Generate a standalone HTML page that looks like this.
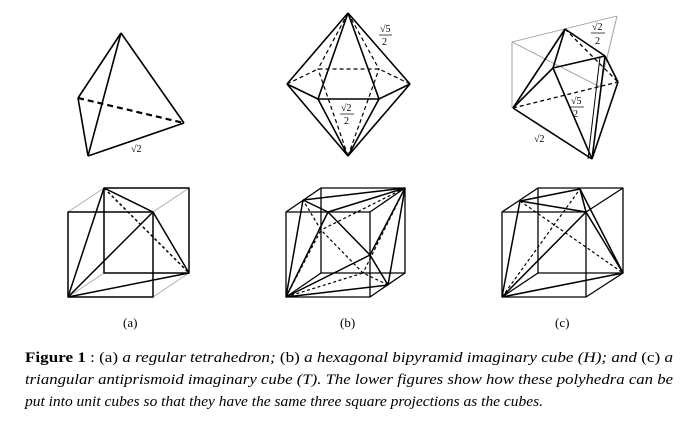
<!DOCTYPE html>
<html><head><meta charset="utf-8"><style>
html,body{margin:0;padding:0;background:#fff;}
svg{display:block;}
text{font-family:"Liberation Serif",serif;fill:#000;}
</style></head><body>
<svg width="688" height="424" viewBox="0 0 688 424" xmlns="http://www.w3.org/2000/svg">
<g stroke="#000" stroke-width="1.6" fill="none" stroke-linejoin="round">
<!-- (a) tetrahedron -->
<line x1="121" y1="33" x2="78" y2="98"/>
<line x1="121" y1="33" x2="88" y2="156"/>
<line x1="121" y1="33" x2="184" y2="123"/>
<line x1="78" y1="98" x2="88" y2="156"/>
<line x1="88" y1="156" x2="184" y2="123"/>
<line x1="78" y1="98" x2="184" y2="123" stroke-dasharray="6,4" stroke-width="2.2"/>
<!-- (b) bipyramid -->
<g>
<line x1="348" y1="13" x2="287" y2="84"/><line x1="348" y1="13" x2="410" y2="84"/>
<line x1="348" y1="13" x2="318" y2="99"/><line x1="348" y1="13" x2="379" y2="99"/>
<line x1="348" y1="156" x2="287" y2="84"/><line x1="348" y1="156" x2="410" y2="84"/>
<line x1="348" y1="156" x2="318" y2="99"/><line x1="348" y1="156" x2="379" y2="99"/>
<polyline points="287,84 318,99 379,99 410,84"/>
<g stroke-dasharray="4,3" stroke-width="1.2">
<polyline points="287,84 318,69 379,69 410,84"/>
<line x1="348" y1="13" x2="318" y2="69"/><line x1="348" y1="13" x2="379" y2="69"/>
<line x1="348" y1="156" x2="318" y2="69"/><line x1="348" y1="156" x2="379" y2="69"/>
</g></g>
<!-- (c) antiprismoid -->
<g stroke="#999" stroke-width="0.9">
<line x1="512" y1="42" x2="617" y2="16"/><line x1="617" y1="16" x2="600" y2="87"/>
<line x1="512" y1="42" x2="600" y2="87"/><line x1="512" y1="42" x2="512" y2="108"/>
</g>
<line x1="565" y1="29" x2="553" y2="68"/><line x1="565" y1="29" x2="605" y2="56"/>
<line x1="565" y1="29" x2="513" y2="108"/><line x1="553" y1="68" x2="605" y2="56"/>
<line x1="553" y1="68" x2="513" y2="108"/><line x1="553" y1="68" x2="592" y2="159"/>
<line x1="513" y1="108" x2="592" y2="159"/><line x1="605" y1="56" x2="592" y2="159"/>
<line x1="618" y1="82" x2="592" y2="159"/><line x1="605" y1="56" x2="618" y2="82"/>
<line x1="600" y1="57" x2="588" y2="159" stroke-width="1"/>
<g stroke-dasharray="4,3" stroke-width="1.3">
<line x1="565" y1="29" x2="618" y2="82"/><line x1="513" y1="108" x2="618" y2="82"/>
</g>
</g>
<!-- bottom (a) -->
<g fill="none" stroke-linejoin="round">
<g stroke="#aaa" stroke-width="0.9">
<line x1="68" y1="212" x2="104" y2="188"/><line x1="153" y1="212" x2="189" y2="188"/>
<line x1="153" y1="297" x2="189" y2="273"/><line x1="68" y1="297" x2="104" y2="273"/>
</g>
<g stroke="#000" stroke-width="1.5">
<rect x="68" y="212" width="85" height="85"/><rect x="104" y="188" width="85" height="85"/>
<line x1="68" y1="297" x2="104" y2="188"/><line x1="68" y1="297" x2="153" y2="212"/>
<line x1="68" y1="297" x2="189" y2="273"/><line x1="104" y1="188" x2="153" y2="212"/>
<line x1="153" y1="212" x2="189" y2="273"/>
<line x1="104" y1="188" x2="189" y2="273" stroke-dasharray="3,2.5"/>
</g>
<!-- bottom (b) -->
<g stroke="#000" stroke-width="1.3">
<rect x="286" y="212" width="84" height="85"/><rect x="321" y="188" width="84" height="85"/>
<line x1="286" y1="212" x2="321" y2="188"/><line x1="370" y1="212" x2="405" y2="188"/>
<line x1="370" y1="297" x2="405" y2="273"/><line x1="286" y1="297" x2="321" y2="273"/>
</g>
<g stroke="#000" stroke-width="1.5">
<polyline points="303,200 328,212 370,255 388,285"/>
<line x1="286" y1="297" x2="303" y2="200"/><line x1="286" y1="297" x2="328" y2="212"/>
<line x1="286" y1="297" x2="370" y2="255"/><line x1="286" y1="297" x2="388" y2="285"/>
<line x1="405" y1="188" x2="303" y2="200"/><line x1="405" y1="188" x2="328" y2="212"/>
<line x1="405" y1="188" x2="370" y2="255"/><line x1="405" y1="188" x2="388" y2="285"/>
<g stroke-dasharray="3,2.5" stroke-width="1.2">
<polyline points="388,285 363,273 321,230 303,200"/>
<line x1="286" y1="297" x2="363" y2="273"/><line x1="286" y1="297" x2="321" y2="230"/>
<line x1="405" y1="188" x2="363" y2="273"/><line x1="405" y1="188" x2="321" y2="230"/>
</g></g>
<!-- bottom (c) -->
<g stroke="#000" stroke-width="1.3">
<rect x="502" y="212" width="84" height="85"/><rect x="538" y="188" width="85" height="85"/>
<line x1="502" y1="212" x2="538" y2="188"/><line x1="586" y1="212" x2="623" y2="188"/>
<line x1="586" y1="297" x2="623" y2="273"/><line x1="502" y1="297" x2="538" y2="273"/>
</g>
<g stroke="#000" stroke-width="1.5">
<line x1="502" y1="297" x2="520" y2="201"/><line x1="502" y1="297" x2="586" y2="212"/>
<line x1="502" y1="297" x2="623" y2="273"/><line x1="520" y1="201" x2="580" y2="189"/>
<line x1="520" y1="201" x2="586" y2="212"/><line x1="580" y1="189" x2="586" y2="212"/>
<line x1="580" y1="189" x2="623" y2="273"/><line x1="586" y1="212" x2="623" y2="273"/>
<g stroke-dasharray="3,2.5" stroke-width="1.2">
<line x1="502" y1="297" x2="580" y2="189"/><line x1="520" y1="201" x2="623" y2="273"/>
</g></g>
</g>
<!-- labels -->
<g font-size="10">
<text x="131" y="152">√2</text>
<text x="380" y="32">√5</text><line x1="379" y1="35" x2="392" y2="35" stroke="#000" stroke-width="0.7"/><text x="382" y="45">2</text>
<text x="341" y="111">√2</text><line x1="340" y1="114" x2="354" y2="114" stroke="#000" stroke-width="0.7"/><text x="344" y="124">2</text>
<text x="592" y="30">√2</text><line x1="591" y1="33" x2="605" y2="33" stroke="#000" stroke-width="0.7"/><text x="595" y="44">2</text>
<text x="571" y="104">√5</text><line x1="570" y1="107" x2="584" y2="107" stroke="#000" stroke-width="0.7"/><text x="573" y="117">2</text>
<text x="534" y="142">√2</text>
</g>
<g font-size="13">
<text x="123" y="327">(a)</text><text x="340" y="327">(b)</text><text x="555" y="327">(c)</text>
</g>
<g font-size="14.5">
<text x="25" y="362" textLength="648" lengthAdjust="spacingAndGlyphs"><tspan font-weight="bold">Figure 1</tspan> :   (a) <tspan font-style="italic">a regular tetrahedron;</tspan> (b) <tspan font-style="italic">a hexagonal bipyramid imaginary cube (H); and</tspan> (c) <tspan font-style="italic">a</tspan></text>
<text x="25" y="384" font-style="italic" textLength="648" lengthAdjust="spacingAndGlyphs">triangular antiprismoid imaginary cube (T). The lower figures show how these polyhedra can be</text>
<text x="25" y="406" font-style="italic" textLength="518" lengthAdjust="spacingAndGlyphs">put into unit cubes so that they have the same three square projections as the cubes.</text>
</g>
</svg>
</body></html>
